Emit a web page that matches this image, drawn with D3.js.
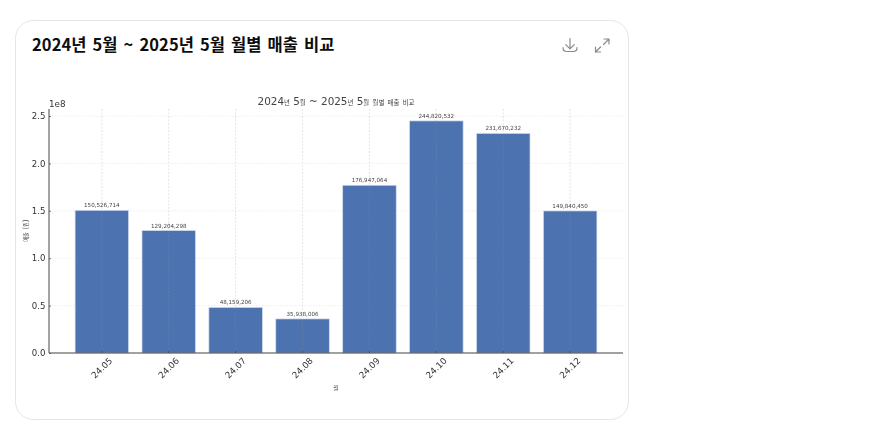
<!DOCTYPE html>
<html lang="ko"><head><meta charset="utf-8">
<script src="https://cdn.jsdelivr.net/npm/d3@7"></script>
<style>
html,body{margin:0;padding:0;background:#fff;}
svg{display:block;position:absolute;left:0;top:0;}
</style></head><body>
<svg id="c" width="871" height="433"></svg>
<script>
const cardTitle = "2024년 5월 ~ 2025년 5월 월별 매출 비교";
const chartTitle = "2024년 5월 ~ 2025년 5월 월별 매출 비교";
const yTitle = "매출 (원)";
const xTitle = "월";
const months = ["24.05","24.06","24.07","24.08","24.09","24.10","24.11","24.12"];
const sales = [150526714,129204298,48159206,35938006,176947064,244820532,231670232,149840450];
const yTicks = [0,0.5e8,1e8,1.5e8,2e8,2.5e8];

const svg = d3.select("#c");
const dj = "'DejaVu Sans', 'Noto Sans CJK KR', sans-serif";
// Hangul runs are set small so each keeps the narrow width it has in the reference
function runs(sel, str, size){
  str.split(/([\uAC00-\uD7A3]+)/).filter(s=>s).forEach(s=>{
    const isH = /[\uAC00-\uD7A3]/.test(s);
    sel.append("tspan").attr("font-size",isH?size:null).text(s);
  });
}
svg.append("rect").attr("x",15.5).attr("y",20.5).attr("width",613).attr("height",399)
  .attr("rx",18).attr("fill","#fff").attr("stroke","#e5e5e5");
svg.append("text").attr("x",32).attr("y",51).text(cardTitle)
  .attr("font-family","'Noto Sans CJK KR', sans-serif").attr("font-weight",700)
  .attr("font-size",16.5).attr("word-spacing",1.3).attr("letter-spacing",0.08).attr("fill","#0d0d0d");

// toolbar icons
const ic = svg.append("g").attr("fill","none").attr("stroke","#8a8a8a").attr("stroke-width",1.2).attr("stroke-linecap","round").attr("stroke-linejoin","round");
ic.append("path").attr("d","M570 38.5V48.5M565.8 44.6L570 48.8L574.2 44.6M563 47.5C563 50 564 51.5 566.5 51.5H573.5C576 51.5 577 50 577 47.5");
ic.append("path").attr("d","M603.5 44.5L608.5 39.5M604 39H609V44M595.5 52L600.5 47M595.5 47V52H600.5");

const x = d3.scaleBand().domain(months).range([49,623]).paddingInner(0.2).paddingOuter(0.39);
const y = d3.scaleLinear().domain([0,2.5e8]).range([353,116]);
const g = svg.append("g").style("filter","blur(0.35px)");

// horizontal grid behind the bars
g.append("g").selectAll("line").data(yTicks.slice(1)).join("line")
  .attr("x1",49).attr("x2",623).attr("y1",d=>y(d)).attr("y2",d=>y(d))
  .attr("stroke","#e6e6e6").attr("stroke-width",0.7).attr("stroke-dasharray","1.5 1.5");

g.append("g").selectAll("rect").data(sales).join("rect")
  .attr("x",(d,i)=>x(months[i])).attr("width",x.bandwidth())
  .attr("y",d=>y(d)).attr("height",d=>y(0)-y(d))
  .attr("fill","#4c72b0").attr("stroke","#d5deee").attr("stroke-width",0.7);

// vertical grid over the bars
g.append("g").selectAll("line").data(months).join("line")
  .attr("x1",d=>x(d)+x.bandwidth()/2).attr("x2",d=>x(d)+x.bandwidth()/2)
  .attr("y1",109).attr("y2",353)
  .attr("stroke","#999").attr("stroke-opacity",0.38).attr("stroke-width",0.7).attr("stroke-dasharray","2 1.5");

g.append("g").selectAll("text").data(sales).join("text")
  .attr("x",(d,i)=>x(months[i])+x.bandwidth()/2).attr("y",d=>y(d)-3)
  .attr("text-anchor","middle").attr("font-family",dj).attr("font-size",5.6).attr("fill","#444")
  .text(d=>d3.format(",")(d));

// axes (ticks point inward)
const ax = d3.axisBottom(x).tickSize(-2);
const axG = g.append("g").attr("transform","translate(0,353)").call(ax);
axG.select(".domain").attr("d","M49,0H623").attr("stroke","#444").attr("stroke-width",1.1);
axG.selectAll("line").attr("stroke","#444").attr("stroke-width",0.7);
axG.selectAll("text").attr("font-family",dj).attr("font-size",8.8).attr("fill","#333")
  .attr("text-anchor","middle").attr("y",0).attr("dy",0).attr("x",0)
  .attr("transform","translate(0,15) rotate(-45) translate(0,3)");
const ay = d3.axisLeft(y).tickValues(yTicks).tickFormat(d=>(d/1e8).toFixed(1)).tickSize(-2).tickPadding(3.5);
const ayG = g.append("g").attr("transform","translate(49,0)").call(ay);
ayG.select(".domain").attr("d","M0,109V353").attr("stroke","#666").attr("stroke-width",1.2);
ayG.selectAll("line").attr("stroke","#444").attr("stroke-width",0.7);
ayG.selectAll("text").attr("font-family",dj).attr("font-size",8.6).attr("fill","#333");

g.append("text").attr("x",49).attr("y",107).text("1e8").attr("font-family",dj).attr("font-size",8.8).attr("fill","#333");
g.append("text").attr("x",336).attr("y",105).attr("text-anchor","middle")
  .attr("font-family",dj).attr("font-size",10.4).attr("fill","#444")
  .call(runs,chartTitle,6.4);
g.append("text").attr("transform","translate(28,230.5) rotate(-90)").attr("text-anchor","middle")
  .attr("font-family",dj).attr("font-size",7.5).attr("fill","#444")
  .call(runs,yTitle,5.2);
g.append("text").attr("x",336).attr("y",390).attr("text-anchor","middle").text(xTitle)
  .attr("font-family",dj).attr("font-size",5.5).attr("fill","#444");
</script></body></html>
